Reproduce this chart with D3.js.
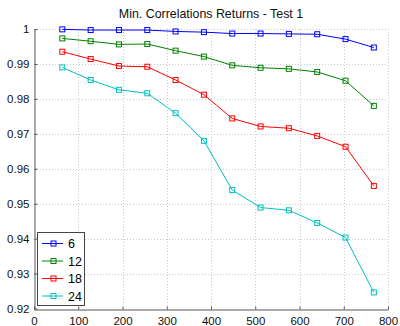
<!DOCTYPE html>
<html>
<head>
<meta charset="utf-8">
<script src="https://cdn.jsdelivr.net/npm/d3@7/dist/d3.min.js"></script>
<style>
  html, body { margin: 0; padding: 0; background: #fff; }
  svg { display: block; font-family: "Liberation Sans", Arial, sans-serif; }
</style>
</head>
<body>
<svg id="chart" width="400" height="326"></svg>
<script>
// Window sizes (x) and minimum correlation of returns per horizon
const windows = [64, 128, 192, 256, 320, 384, 448, 512, 576, 640, 704, 768];
const seriesNames = ["6", "12", "18", "24"];
const s6  = [0.9999, 0.9997, 0.9997, 0.9997, 0.9993, 0.9991, 0.9987, 0.9987, 0.9986, 0.9985, 0.9971, 0.9947];
const s12 = [0.9973, 0.9965, 0.9956, 0.9957, 0.9938, 0.9921, 0.9896, 0.9889, 0.9886, 0.9877, 0.9852, 0.9780];
const s18 = [0.9935, 0.9914, 0.9894, 0.9892, 0.9854, 0.9812, 0.9744, 0.9721, 0.9716, 0.9694, 0.9663, 0.9551];
const s24 = [0.9890, 0.9854, 0.9826, 0.9816, 0.9759, 0.9680, 0.9539, 0.9489, 0.9481, 0.9445, 0.9403, 0.9246];
const xTicks = [0, 100, 200, 300, 400, 500, 600, 700, 800];
const yTicks = [0.92, 0.93, 0.94, 0.95, 0.96, 0.97, 0.98, 0.99, 1];
const colors = ["#0000ff", "#008000", "#ff0000", "#00c0c0"];
const title = "Min. Correlations Returns - Test 1";

const seriesValues = [s6, s12, s18, s24];

const svg = d3.select("#chart");
const plotL = 34, plotR = 388, plotT = 29, plotB = 308.5;

const x = d3.scaleLinear().domain([0, 800]).range([plotL, plotR]);
const y = d3.scaleLinear().domain([0.92, 1]).range([plotB, plotT]);

// dotted grid
const grid = svg.append("g").attr("stroke", "#c8c8c8").attr("stroke-dasharray", "1,2").attr("stroke-width", 1);
grid.selectAll("line.vx").data(xTicks.slice(1)).join("line")
  .attr("x1", d => Math.round(x(d)) + 0.5).attr("x2", d => Math.round(x(d)) + 0.5)
  .attr("y1", plotT).attr("y2", plotB);
grid.selectAll("line.hy").data(yTicks.slice(1)).join("line")
  .attr("y1", d => Math.round(y(d)) + 0.5).attr("y2", d => Math.round(y(d)) + 0.5)
  .attr("x1", plotL).attr("x2", plotR);

// axes with inward ticks
const xAxis = d3.axisBottom(x).tickValues(xTicks).tickFormat(d3.format("d")).tickSizeInner(-3).tickSizeOuter(0).tickPadding(7);
const yAxis = d3.axisLeft(y).tickValues(yTicks).tickFormat(d => d === 1 ? "1" : d3.format(".2f")(d)).tickSizeInner(-3).tickSizeOuter(0).tickPadding(5);

const gx = svg.append("g").attr("transform", `translate(0,${Math.round(plotB) + 0.5})`).call(xAxis);
const gy = svg.append("g").attr("transform", `translate(${plotL + 0.5},0)`).call(yAxis);
[gx, gy].forEach(g => {
  g.select(".domain").attr("stroke", "#555");
  g.selectAll(".tick line").attr("stroke", "#555");
  g.selectAll(".tick text").attr("fill", "#111").attr("font-size", 11.5)
    .attr("font-family", "Liberation Sans, Arial, sans-serif");
});

// title
svg.append("text").attr("x", (plotL + plotR) / 2).attr("y", 17.5)
  .attr("text-anchor", "middle").attr("font-size", 12.4).attr("fill", "#111")
  .text(title);

// series lines and square markers
const line = d3.line().x((d, i) => x(windows[i])).y(d => y(d));
seriesValues.forEach((vals, k) => {
  const g = svg.append("g");
  g.append("path").attr("d", line(vals)).attr("fill", "none")
    .attr("stroke", colors[k]).attr("stroke-width", 1);
  g.selectAll("rect").data(vals).join("rect")
    .attr("x", (d, i) => x(windows[i]) - 2.5).attr("y", d => y(d) - 2.5)
    .attr("width", 5).attr("height", 5)
    .attr("fill", "none").attr("stroke", colors[k]).attr("stroke-width", 1);
});

// legend
const lg = svg.append("g");
lg.append("rect").attr("x", 37.5).attr("y", 232.5).attr("width", 47).attr("height", 73)
  .attr("fill", "#fff").attr("stroke", "#444").attr("stroke-width", 1);
seriesNames.forEach((name, k) => {
  const ly = 243.5 + k * 17.5;
  lg.append("line").attr("x1", 42).attr("x2", 63).attr("y1", ly).attr("y2", ly)
    .attr("stroke", colors[k]).attr("stroke-width", 1);
  lg.append("rect").attr("x", 51).attr("y", ly - 2.5).attr("width", 5).attr("height", 5)
    .attr("fill", "none").attr("stroke", colors[k]);
  lg.append("text").attr("x", 68).attr("y", ly + 4.5).attr("font-size", 12.5).attr("fill", "#000").text(name);
});
</script>
</body>
</html>
